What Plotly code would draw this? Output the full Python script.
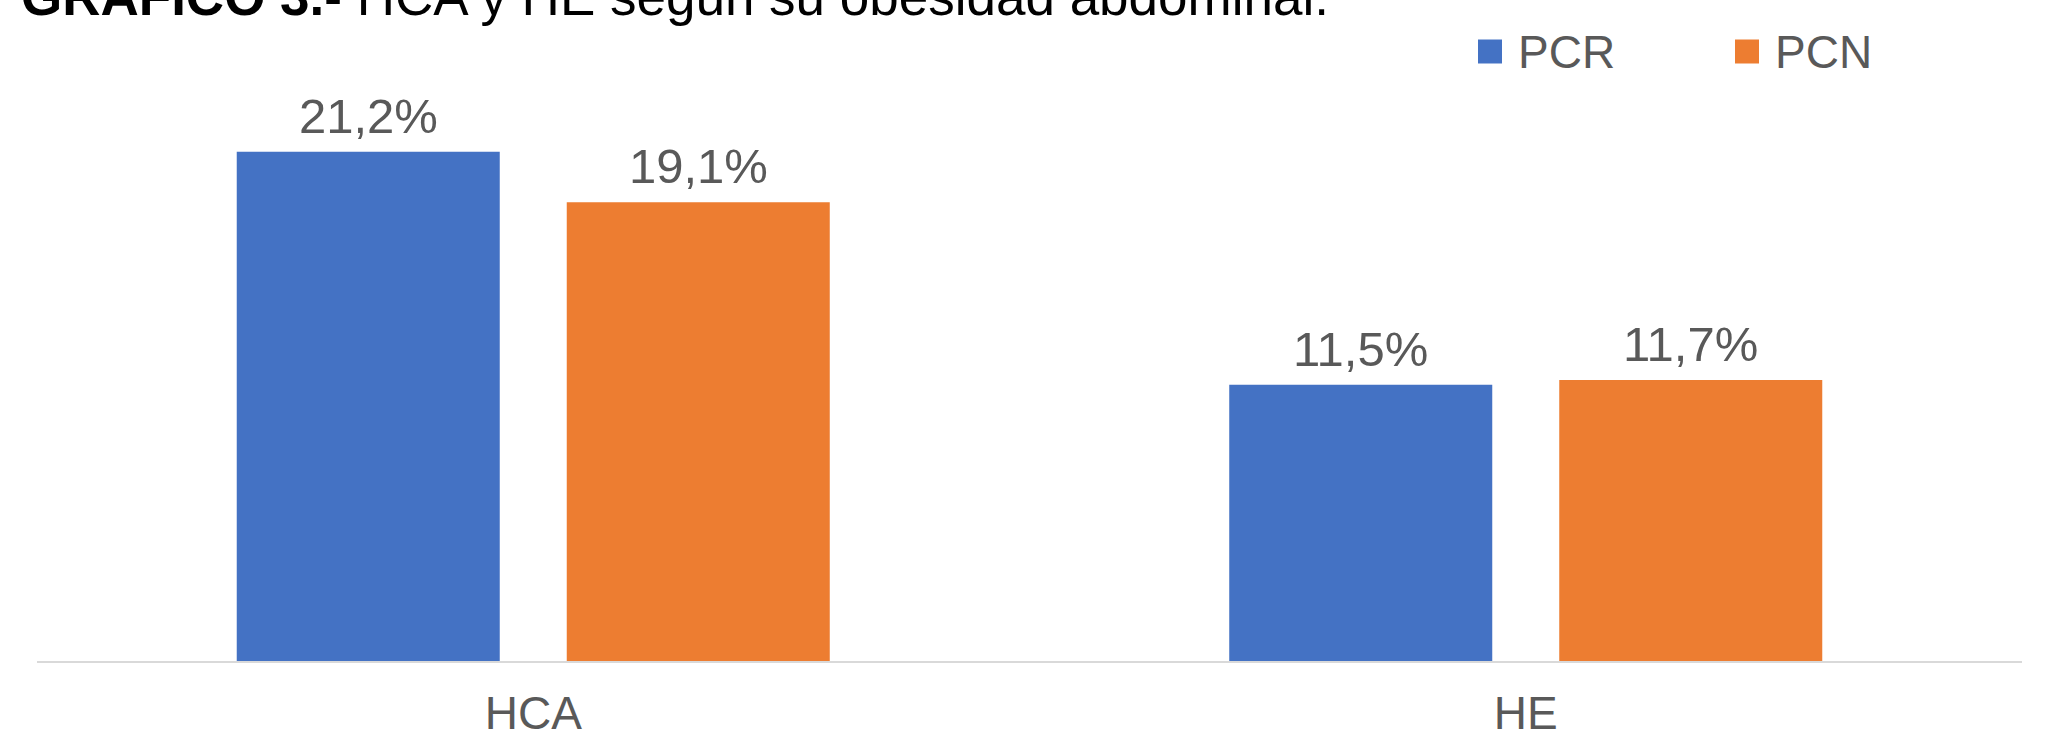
import plotly.graph_objects as go

categories = ["HCA", "HE"]
series_names = ["PCR", "PCN"]
pcr_values = [21.2, 11.5]
pcn_values = [19.1, 11.7]
series_colors = ["#4472C4", "#ED7D31"]
title_bold = "GRÁFICO 3.-"
title_rest = " HCA y HE según su obesidad abdominal."

W, H = 2052, 742
M_L, M_R, M_T, M_B = 37, 30, 60, 81
PX_PER_UNIT = 24.02
plot_h = H - M_T - M_B
plot_w = W - M_L - M_R
y_max = plot_h / PX_PER_UNIT

BARGAP = 0.335
BARGROUPGAP = 0.203

FONT = "Liberation Sans, Arial, sans-serif"
GRAY = "#595959"


def fmt(v):
    return f"{v:.1f}%".replace(".", ",")


fig = go.Figure()
all_series = [pcr_values, pcn_values]
for name, vals, col in zip(series_names, all_series, series_colors):
    fig.add_trace(go.Bar(
        name=name, x=categories, y=vals, marker_color=col,
        marker_line_width=0, showlegend=False, hoverinfo="skip",
    ))

# value labels placed above each bar of the group
cat_w = plot_w / len(categories)
slot = cat_w * (1 - BARGAP) / len(series_names)
for i, vals in enumerate(all_series):
    offset = (i - (len(series_names) - 1) / 2) * slot
    for c, v in zip(categories, vals):
        fig.add_annotation(x=c, y=v, xref="x", yref="y", xshift=offset, yshift=7,
                           xanchor="center", yanchor="bottom", text=fmt(v), showarrow=False,
                           font=dict(size=49, color=GRAY, family=FONT))

# legend drawn manually so the swatches match the reference size
leg_x = [1478, 1735]
leg_yc = 51.5
sq = 24
for name, col, lx in zip(series_names, series_colors, leg_x):
    fig.add_shape(type="rect", xref="paper", yref="paper",
                  x0=(lx - M_L) / plot_w, x1=(lx + sq - M_L) / plot_w,
                  y0=1 + (M_T - leg_yc - sq / 2) / plot_h, y1=1 + (M_T - leg_yc + sq / 2) / plot_h,
                  fillcolor=col, line_width=0)
    fig.add_annotation(xref="paper", yref="paper",
                       x=(lx + sq + 14 - M_L) / plot_w, y=1 + (M_T - leg_yc) / plot_h,
                       xanchor="left", yanchor="middle", text=name, showarrow=False,
                       font=dict(size=46, color=GRAY, family=FONT))

fig.add_annotation(xref="paper", yref="paper",
                   x=(19 - M_L) / plot_w, y=1 + (M_T + 4) / plot_h,
                   xanchor="left", yanchor="middle",
                   text=f"<b>{title_bold}</b>{title_rest}", showarrow=False,
                   font=dict(size=53, color="#000000", family=FONT))

fig.update_layout(
    width=W, height=H,
    margin=dict(l=M_L, r=M_R, t=M_T, b=M_B, pad=0, autoexpand=False),
    paper_bgcolor="white", plot_bgcolor="white",
    barmode="group", bargap=BARGAP, bargroupgap=BARGROUPGAP,
    font=dict(family=FONT, color=GRAY),
    xaxis=dict(showline=True, linecolor="#D9D9D9", linewidth=2, automargin=False,
               tickfont=dict(size=46, color=GRAY, family=FONT),
               ticks="", ticklabelstandoff=11, showgrid=False),
    yaxis=dict(range=[0, y_max], visible=False, showgrid=False, zeroline=False,
               automargin=False),
)

fig.write_html("out.html", config={"displayModeBar": False},
               post_script="document.body.style.margin='0';")
